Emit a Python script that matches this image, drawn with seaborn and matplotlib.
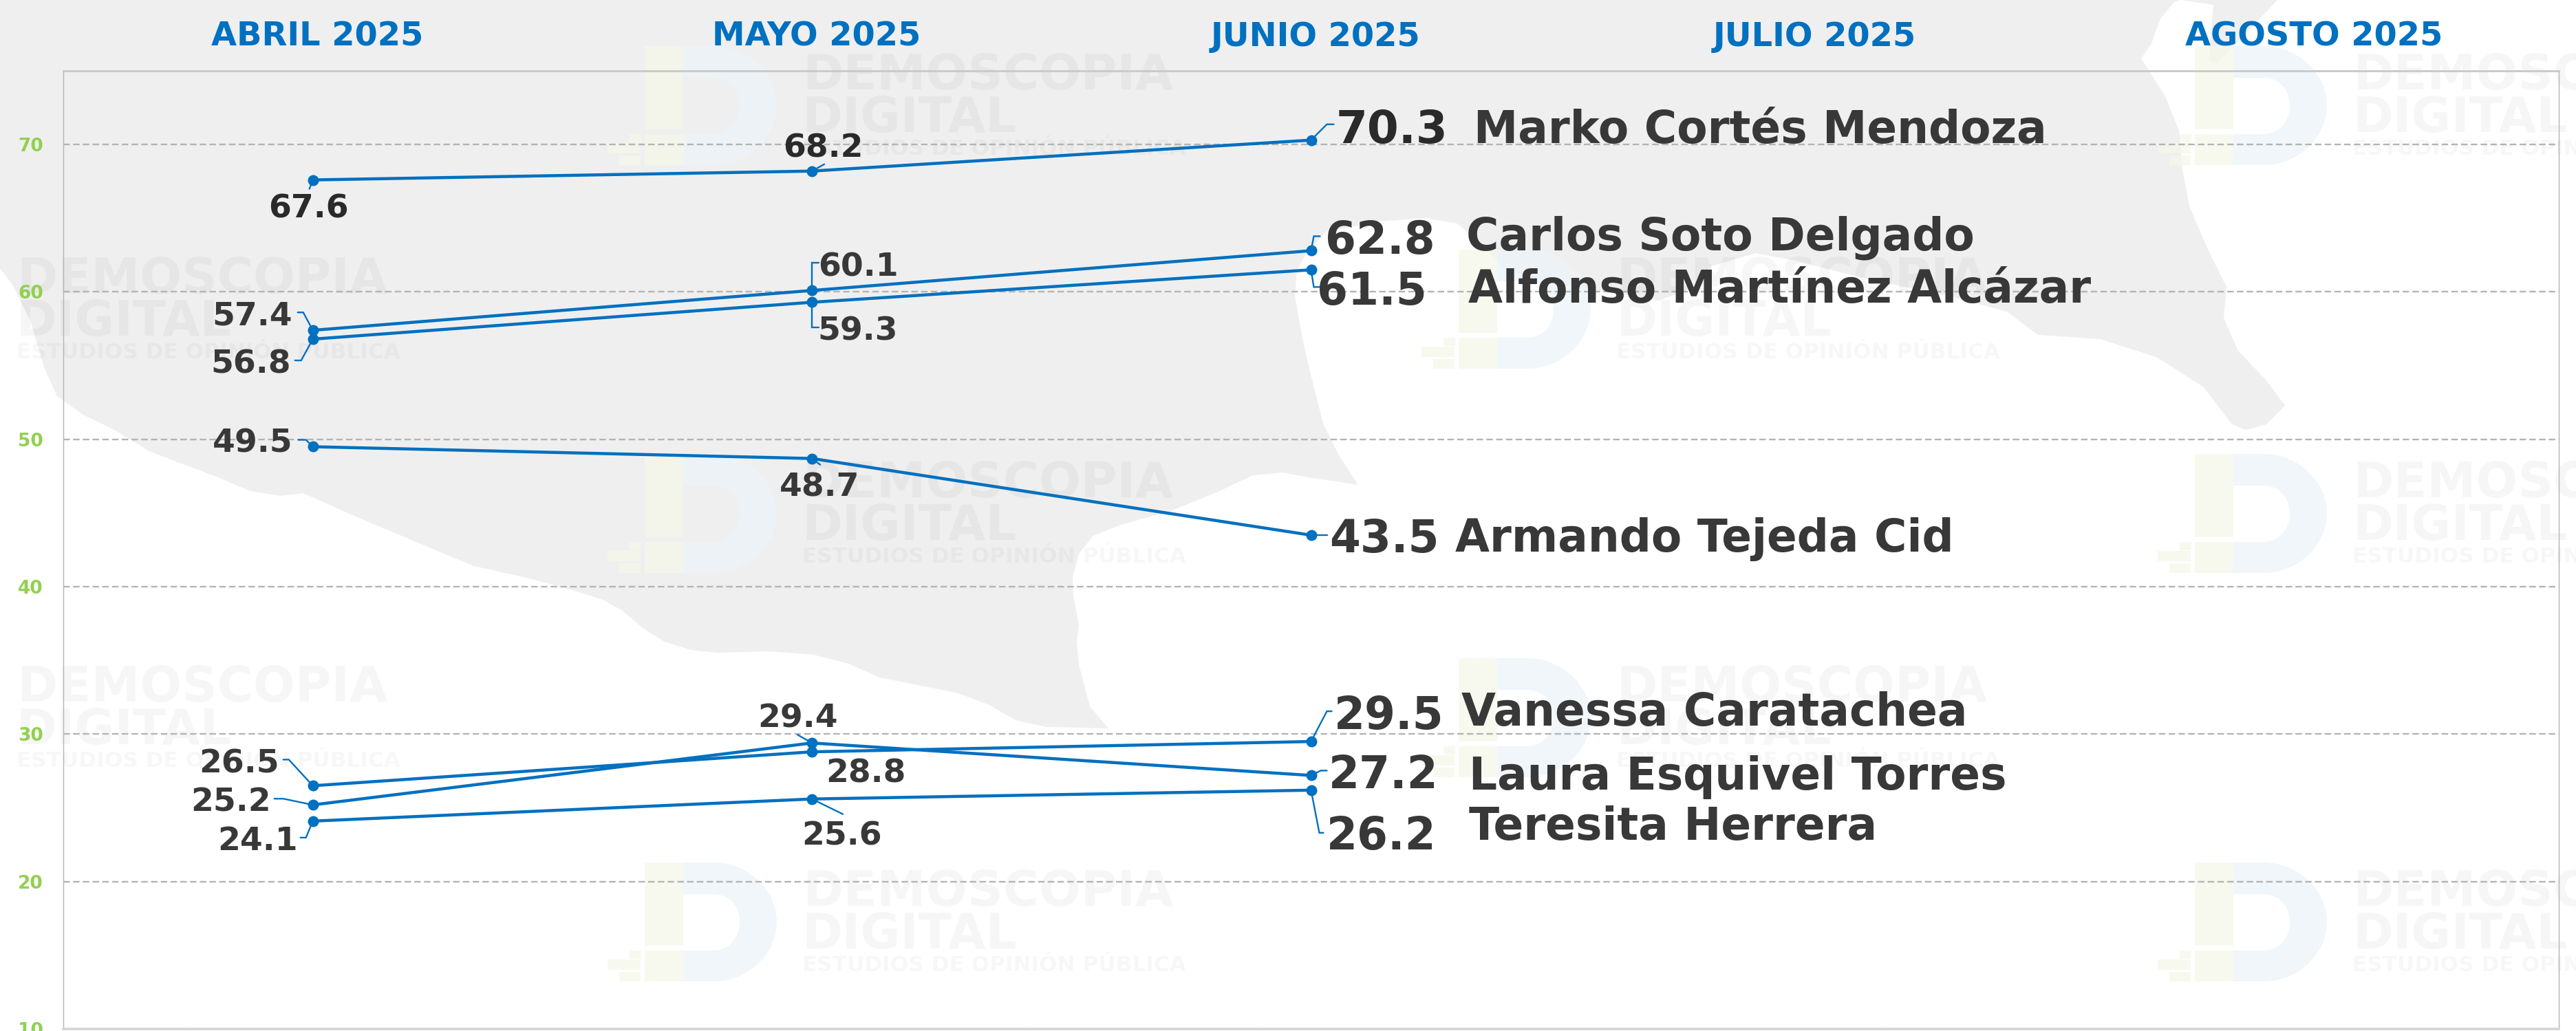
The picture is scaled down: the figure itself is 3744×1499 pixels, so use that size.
# -*- coding: utf-8 -*-
import numpy as np
import pandas as pd
import seaborn as sns
from matplotlib import pyplot as plt
from matplotlib.patches import Polygon, Rectangle, PathPatch
from matplotlib.path import Path
from matplotlib.transforms import IdentityTransform, ScaledTranslation

# Chart data
months = ["ABRIL 2025", "MAYO 2025", "JUNIO 2025", "JULIO 2025", "AGOSTO 2025"]
candidates = ["Marko Cortés Mendoza", "Carlos Soto Delgado", "Alfonso Martínez Alcázar",
              "Armando Tejeda Cid", "Vanessa Caratachea", "Laura Esquivel Torres",
              "Teresita Herrera"]
abril = [67.6, 57.4, 56.8, 49.5, 26.5, 25.2, 24.1]
mayo = [68.2, 60.1, 59.3, 48.7, 28.8, 29.4, 25.6]
junio = [70.3, 62.8, 61.5, 43.5, 29.5, 27.2, 26.2]
y_ticks = [10, 20, 30, 40, 50, 60, 70]

BLUE = "#0070C0"
DARK = "#383838"
GREEN = "#92D050"
FONT = ["DejaVu Sans"]
W, H = 3744, 1499

# label centres, px away from the point (y down): candidate -> (april, may, june)
label_off = [[(-6, 38), (16, -37), (117, -20)],
             [(-88, -25), (67, -38), (100, -19)],
             [(-90, 32), (67, 38), (88, 27)],
             [(-88, -9), (11, 38), (106, 1)],
             [(-107, -36), (78, 27), (113, -42)],
             [(-119, -8), (-21, -40), (105, -5)],
             [(-80, 25), (43, 50), (102, 63)]]
# leader elbows, px away from the point
leaders = [[[(-5, 13)], [(18, -10)], [(23, -23), (33, -23)]],
           [[(-14, -26), (-22, -26)], [(0, -40), (10, -40)], [(4, -21), (13, -21)]],
           [[(-17, 31), (-26, 31)], [(0, 37), (10, 37)], [(4, 25), (13, 25)]],
           [[(-10, -10), (-21, -10)], [(12, 9)], [(23, 0)]],
           [[(-35, -38), (-43, -38)], [], [(23, -44), (30, -44)]],
           [[(-43, -9), (-56, -9)], [(-21, -12)], [(14, -7), (23, -7)]],
           [[(-10, 24), (-18, 24)], [(45, 22)], [(12, 62), (18, 62)]]]
# name position, left edge and cap centre in px
name_pos = [(2142, 184), (2131, 340), (2134, 416), (2115, 778),
            (2124, 1031), (2135, 1124), (2135, 1197)]

# Background map, traced in px
map_outline = [(0, 0), (0, 390), (19, 415), (45, 469), (64, 534), (83, 576), (121, 603), (166, 625),
               (217, 656), (261, 673), (312, 692), (364, 714), (408, 721), (441, 717), (510, 748),
               (574, 775), (638, 802), (689, 823), (765, 840), (829, 857), (876, 872), (905, 888),
               (934, 913), (966, 933), (1004, 945), (1042, 949), (1119, 947), (1183, 952),
               (1234, 965), (1278, 985), (1329, 995), (1393, 1008), (1438, 1025), (1476, 1047),
               (1521, 1057), (1611, 1059), (1584, 1027), (1568, 967), (1565, 933), (1568, 907),
               (1560, 867), (1559, 840), (1568, 805), (1589, 779), (1629, 763), (1701, 743),
               (1768, 716), (1821, 691), (1864, 687), (1902, 694), (1974, 705), (1946, 662),
               (1924, 618), (1911, 569), (1893, 493), (1882, 430), (1885, 393), (1898, 370),
               (1927, 337), (2003, 322), (2073, 317), (2118, 325), (2156, 357), (2188, 393),
               (2258, 413), (2360, 428), (2411, 437), (2456, 420), (2488, 387), (2551, 368),
               (2615, 380), (2679, 397), (2743, 412), (2830, 430), (2917, 453), (2962, 487),
               (3053, 493), (3136, 520), (3203, 563), (3244, 617), (3265, 625), (3294, 617),
               (3321, 590), (3294, 553), (3253, 510), (3232, 463), (3236, 417), (3211, 367),
               (3182, 300), (3172, 247), (3167, 190), (3147, 140), (3112, 85), (3127, 63),
               (3140, 27), (3160, 3), (3170, 0)]
map_wedge = [(3170, 0), (3217, 7), (3210, 88), (3222, 93), (3310, 0)]

# watermark anchors: left edge of the logo bar, top of the logo
marks = [(937, 67), (937, 660), (937, 1254), (3190, 67), (3190, 660), (3190, 1254),
         (2120, 363), (2120, 957), (-205, 363), (-205, 957)]


def long_table():
    rows = []
    for c, name in enumerate(candidates):
        for m, vals in enumerate([abril, mayo, junio]):
            rows.append({"candidate": name, "pos": m, "value": vals[c]})
    return pd.DataFrame(rows)


def draw_logo(bg, x, y):
    """ D logo, two pale tones. """
    yellow = "#f5f8ea"
    blue = "#ebf4f9"
    for r in [(0, 0, 56, 121), (0, 128, 56, 45), (-22, 128, 17, 12), (-54, 141, 48, 15), (-37, 159, 31, 14)]:
        bg.add_patch(Rectangle((x + r[0], y + r[1]), r[2], r[3], fc=yellow, ec="none",
                               alpha=0.75, zorder=1))
    # D with a hole, open on the bar side
    v = [(56, 0), (100, 0), (150, 0), (192, 40), (192, 86), (192, 133), (150, 173), (100, 173),
         (56, 173), (56, 128), (100, 128), (122, 128), (138, 110), (138, 86), (138, 63), (122, 46),
         (100, 46), (56, 46), (56, 0)]
    c = [Path.MOVETO, Path.LINETO, Path.CURVE4, Path.CURVE4, Path.CURVE4, Path.CURVE4, Path.CURVE4,
         Path.CURVE4, Path.LINETO, Path.LINETO, Path.LINETO, Path.CURVE4, Path.CURVE4, Path.CURVE4,
         Path.CURVE4, Path.CURVE4, Path.CURVE4, Path.LINETO, Path.CLOSEPOLY]
    bg.add_patch(PathPatch(Path([(x + a, y + b) for a, b in v], c), fc=blue, ec="none",
                           alpha=0.75, zorder=1))


def draw_mark(bg, x, y):
    draw_logo(bg, x, y)
    tx = x + 229
    for s, base, size, alpha in [("DEMOSCOPIA", 63, 51.5, 0.035), ("DIGITAL", 125, 51, 0.035),
                                 ("ESTUDIOS DE OPINIÓN PÚBLICA", 158, 22.4, 0.03)]:
        bg.text(tx, y + base, s, fontsize=size, family=FONT, weight="bold", color="black",
                alpha=alpha, ha="left", va="baseline", zorder=2, clip_on=True)


sns.set_theme(style="white")
plt.rcParams["font.family"] = FONT

fig = plt.figure(figsize=(W / 100, H / 100), dpi=100, facecolor="white")

# Background layer in image px
bg = fig.add_axes([0, 0, 1, 1], zorder=0)
bg.set_xlim(0, W)
bg.set_ylim(H, 0)
bg.axis("off")
bg.add_patch(Polygon(map_outline, fc="#efefef", ec="none", zorder=0))
bg.add_patch(Polygon(map_wedge, fc="#efefef", ec="none", zorder=0))
for mx, my in marks:
    draw_mark(bg, mx, my)

# Main chart
ax = fig.add_axes([92 / W, 1 - 1496 / H, (3719 - 92) / W, (1496 - 103) / H], zorder=1)
ax.patch.set_alpha(0)
sns.lineplot(data=long_table(), x="pos", y="value", hue="candidate", hue_order=candidates,
             palette=[BLUE] * len(candidates), linewidth=3.2, marker="o", markersize=11.5,
             markeredgewidth=0, legend=False, ax=ax, sort=False, zorder=4)
ax.set_xlim(-0.5, 4.5)
ax.set_ylim(10, 75)
ax.set_xlabel("")
ax.set_ylabel("")

ax.xaxis.tick_top()
ax.set_xticks(range(len(months)))
ax.set_xticklabels(months)
ax.tick_params(axis="x", length=0, pad=19, labelsize=34.5, labelcolor=BLUE)
for lab in ax.get_xticklabels():
    lab.set_fontweight("bold")
    lab.set_transform(lab.get_transform() + ScaledTranslation(6.5 / 100, 0, fig.dpi_scale_trans))

ax.set_yticks(y_ticks)
ax.set_yticklabels([str(t) for t in y_ticks])
ax.tick_params(axis="y", length=0, pad=21, labelsize=19, labelcolor=GREEN)
for lab in ax.get_yticklabels():
    lab.set_fontweight("bold")
    lab.set_clip_on(False)

ax.grid(axis="y", color="#b4b4b4", linewidth=1.7, linestyle=(0, (4.0, 2.0)), zorder=1)
ax.grid(axis="x", visible=False)
for side, col, lw in [("top", "#c8c8c8", 2.0), ("bottom", "#d4d4d4", 2.6),
                      ("left", "#b4b4b4", 1.0), ("right", "#b4b4b4", 1.0)]:
    ax.spines[side].set_visible(True)
    ax.spines[side].set_color(col)
    ax.spines[side].set_linewidth(lw)

# Value labels with thin leaders, names to the right
fig.canvas.draw()
to_px = ax.transData
for c, name in enumerate(candidates):
    for m, vals in enumerate([abril, mayo, junio]):
        px, py = to_px.transform((m, vals[c]))
        chain = leaders[c][m]
        if chain:
            xs = [px] + [px + d[0] for d in chain]
            ys = [py] + [py - d[1] for d in chain]
            ax.plot(xs, ys, color=BLUE, lw=1.7, transform=IdentityTransform(), clip_on=False,
                    solid_joinstyle="miter", zorder=3)
        dx, dy = label_off[c][m]
        size = 34 if m < 2 else 46.5
        if c == 0 and m == 2:
            size = 47.5
        col = "#2a2a2a" if c == 0 else DARK
        cap = size / 0.72 * 0.729
        ax.annotate(str(vals[c]), xy=(m, vals[c]), xytext=(dx * 0.72, -(dy + cap / 2) * 0.72),
                    textcoords="offset points", ha="center", va="baseline", fontsize=size,
                    fontweight="bold", color=col, zorder=5)
    nx, ny = name_pos[c]
    ax.text(nx, ny + 47 / 2, name, transform=bg.transData, fontsize=46.5, fontweight="bold",
            color=DARK, ha="left", va="baseline", zorder=6, clip_on=False)

fig.savefig("out.png", dpi=100)
